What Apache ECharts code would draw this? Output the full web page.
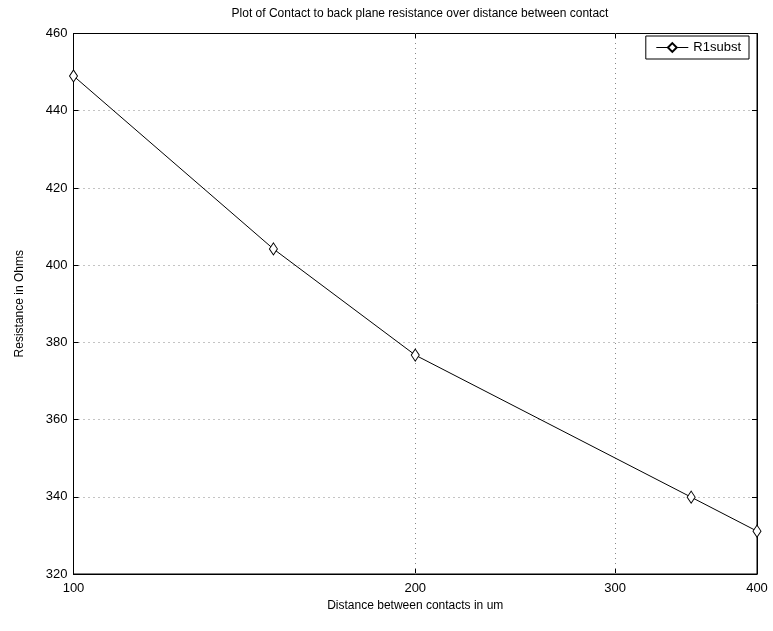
<!DOCTYPE html>
<html><head><meta charset="utf-8">
<script src="https://cdn.jsdelivr.net/npm/echarts@6/dist/echarts.min.js"></script>
<style>html,body{margin:0;padding:0;background:#fff}#c{width:773px;height:631px}</style>
</head><body><div id="c"></div>
<script>
const distances = [100, 150, 200, 350, 400];
const resistance = [449, 404.2, 376.7, 339.9, 331.1];
const xTicks = [100, 200, 300, 400];
const yTicks = [320, 340, 360, 380, 400, 420, 440, 460];

const font = 'Liberation Sans, Arial, sans-serif';
const chart = echarts.init(document.getElementById('c'), null, {renderer: 'canvas'});
const grid = {left: 73.5, right: 16, top: 33.5, bottom: 57, show: true, borderColor: '#000', borderWidth: 1, containLabel: false};
const dotted = {show: true, lineStyle: {color: '#888', type: [1, 4], width: 1}};
chart.setOption({
  animation: false,
  backgroundColor: '#fff',
  title: {text: 'Plot of Contact to back plane resistance over distance between contact', left: 415, textAlign: 'center', top: 3,
    textStyle: {fontFamily: font, fontSize: 12, fontWeight: 'normal', color: '#000'}},
  legend: {right: 24, top: 36, orient: 'vertical', itemWidth: 32, itemHeight: 11, itemGap: 0,
    padding: [5, 8, 5, 10], borderColor: '#000', borderWidth: 1, backgroundColor: '#fff',
    lineStyle: {width: 1},
    textStyle: {fontFamily: font, fontSize: 13, color: '#000'}, data: ['R1subst']},
  grid: grid,
  xAxis: [{
    type: 'log', logBase: 10, min: 100, max: 400,
    name: 'Distance between contacts in um', nameLocation: 'middle', nameGap: 17,
    nameTextStyle: {fontFamily: font, fontSize: 12, color: '#000'},
    axisLine: {show: true, onZero: false, lineStyle: {color: '#000'}},
    axisTick: {show: true, inside: true, length: 5, customValues: xTicks, lineStyle: {color: '#000'}},
    axisLabel: {fontFamily: font, fontSize: 13, color: '#000', margin: 8, customValues: xTicks, showMinLabel: true, showMaxLabel: true},
    splitLine: {show: false}, minorTick: {show: false}, minorSplitLine: {show: false}
  }, {
    type: 'log', logBase: 10, min: 100, max: 400, position: 'top',
    axisLine: {show: true, onZero: false, lineStyle: {color: '#000'}},
    axisTick: {show: true, inside: true, length: 5, customValues: xTicks, lineStyle: {color: '#000'}},
    axisLabel: {show: false}, splitLine: {show: false}
  }],
  yAxis: [{
    type: 'value', min: 320, max: 460, interval: 20,
    name: 'Resistance in Ohms', nameLocation: 'middle', nameGap: 48, nameRotate: 90,
    nameTextStyle: {fontFamily: font, fontSize: 12, color: '#000'},
    axisLine: {show: true, lineStyle: {color: '#000'}},
    axisTick: {show: true, inside: true, length: 5, lineStyle: {color: '#000'}},
    axisLabel: {fontFamily: font, fontSize: 13, color: '#000', margin: 6},
    splitLine: dotted
  }, {
    type: 'value', min: 320, max: 460, interval: 20, position: 'right',
    axisLine: {show: true, lineStyle: {color: '#000'}},
    axisTick: {show: true, inside: true, length: 5, lineStyle: {color: '#000'}},
    axisLabel: {show: false}, splitLine: {show: false}
  }],
  series: [{
    name: 'R1subst', type: 'line',
    data: distances.map((d, i) => [d, resistance[i]]),
    symbol: 'diamond', symbolSize: [8, 12], showSymbol: true,
    lineStyle: {color: '#000', width: 1},
    itemStyle: {color: '#fff', borderColor: '#000', borderWidth: 1},
    z: 5,
    markLine: {silent: true, symbol: 'none', label: {show: false},
      lineStyle: {color: '#888', type: [1, 4], width: 1},
      data: xTicks.slice(1, -1).map(v => ({xAxis: v}))}
  }]
});
</script></body></html>
